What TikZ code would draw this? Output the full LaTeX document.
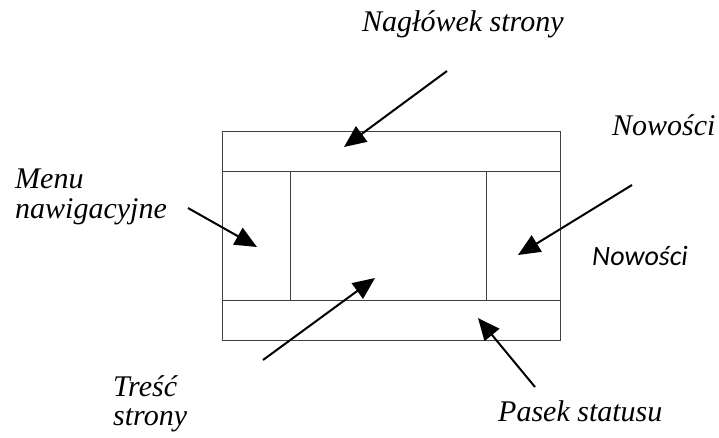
\documentclass[tikz,border=0pt]{standalone}
\usepackage{fontspec}
\setmainfont{Liberation Serif}
\newfontfamily\calfont{Carlito}
\usetikzlibrary{arrows.meta}
\begin{document}
\begin{tikzpicture}[x=1pt,y=-1pt,
	lbl/.style={inner sep=0pt,anchor=base west,align=left,
		font=\fontsize{30}{30}\selectfont\itshape},
	arr/.style={line width=2pt,-{Triangle[length=22pt,width=19pt]}},
	frame/.style={line width=1.5pt,draw=black!75}]
	\useasboundingbox (0,0) rectangle (719,437);
	
	% ramka strony
	\draw[frame] (222.7,131.7) rectangle (560.5,340.7);
	\draw[frame] (222.7,171.5) -- (560.5,171.5);
	\draw[frame] (222.7,300.7) -- (560.5,300.7);
	\draw[frame] (290.5,171.5) -- (290.5,300.7);
	\draw[frame] (486.5,171.5) -- (486.5,300.7);
	
	% opisy
	\node[lbl] (naglowek) at (362,31.7) {Nagłówek strony};
	\node[lbl] (nowosci) at (612,135) {Nowości};
	\node[lbl] (menu) at (15,218.3) {Menu\\nawigacyjne};
	\node[lbl,font=\fontsize{28}{28}\selectfont\calfont\itshape] (nowosci2) at (592,265.7) {Nowości};
	\node[lbl,font=\fontsize{30}{29}\selectfont\itshape] (tresc) at (113,425.5) {Treść\\strony};
	\node[lbl] (pasek) at (498,421.7) {Pasek statusu};
	
	% strzalki
	\coordinate (naglowekA) at (447,71);   \coordinate (naglowekB) at (344,147);
	\coordinate (menuA) at (188,208);      \coordinate (menuB) at (257,247);
	\coordinate (nowosciA) at (632,185);   \coordinate (nowosciB) at (518,255);
	\coordinate (trescA) at (263,360);     \coordinate (trescB) at (375,278);
	\coordinate (pasekA) at (535,387);     \coordinate (pasekB) at (478,318);
	\draw[arr] (naglowekA) -- (naglowekB);
	\draw[arr] (menuA) -- (menuB);
	\draw[arr] (nowosciA) -- (nowosciB);
	\draw[arr] (trescA) -- (trescB);
	\draw[arr] (pasekA) -- (pasekB);
\end{tikzpicture}
\end{document}
